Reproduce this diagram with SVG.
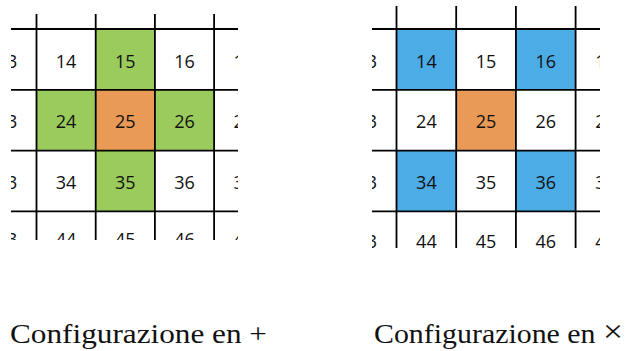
<svg xmlns="http://www.w3.org/2000/svg" width="629" height="351" viewBox="0 0 629 351">
  <style>
    .num { font-family: "Open Sans", "Noto Sans", sans-serif; font-size: 18px; fill: #111; text-anchor: middle; }
    .cap { font-family: "Liberation Serif", "DejaVu Serif", serif; font-size: 27px; fill: #111; }
    .grid line { stroke: #000; stroke-width: 1.8; }
    .plus { fill: #9BCB5C; }
    .centre { fill: #E99A57; }
    .cross { fill: #4BACE6; }
  </style>
  <defs>
    <clipPath id="clipL"><rect x="11" y="14" width="227" height="226"/></clipPath>
    <clipPath id="clipR"><rect x="372" y="6" width="228" height="242"/></clipPath>
  </defs>

  <rect width="629" height="351" fill="#fff"/>

  <!-- Plus neighbourhood -->
  <g id="plus-panel" clip-path="url(#clipL)">
    <rect class="plus" x="95.7" y="29" width="59.2" height="60.8"/>
    <rect class="plus" x="36.5" y="89.8" width="59.2" height="60.8"/>
    <rect class="centre" x="95.7" y="89.8" width="59.2" height="60.8"/>
    <rect class="plus" x="154.9" y="89.8" width="59.2" height="60.8"/>
    <rect class="plus" x="95.7" y="150.6" width="59.2" height="60.8"/>
    <g class="grid">
      <line x1="36.5" y1="0" x2="36.5" y2="260"/>
      <line x1="95.7" y1="0" x2="95.7" y2="260"/>
      <line x1="154.9" y1="0" x2="154.9" y2="260"/>
      <line x1="214.1" y1="0" x2="214.1" y2="260"/>
      <line x1="0" y1="29" x2="260" y2="29"/>
      <line x1="0" y1="89.8" x2="260" y2="89.8"/>
      <line x1="0" y1="150.6" x2="260" y2="150.6"/>
      <line x1="0" y1="211.4" x2="260" y2="211.4"/>
    </g>
    <g class="num">
      <text x="6.9" y="67.5">13</text><text x="66.1" y="67.5">14</text><text x="125.3" y="67.5">15</text><text x="184.5" y="67.5">16</text><text x="243.7" y="67.5">17</text>
      <text x="6.9" y="128.3">23</text><text x="66.1" y="128.3">24</text><text x="125.3" y="128.3">25</text><text x="184.5" y="128.3">26</text><text x="243.7" y="128.3">27</text>
      <text x="6.9" y="189.1">33</text><text x="66.1" y="189.1">34</text><text x="125.3" y="189.1">35</text><text x="184.5" y="189.1">36</text><text x="243.7" y="189.1">37</text>
      <text x="6.9" y="246">43</text><text x="66.1" y="246">44</text><text x="125.3" y="246">45</text><text x="184.5" y="246">46</text><text x="243.7" y="246">47</text>
    </g>
  </g>

  <!-- Cross (diagonal) neighbourhood -->
  <g id="cross-panel" clip-path="url(#clipR)">
    <rect class="cross" x="396.5" y="29" width="59.7" height="60.8"/>
    <rect class="cross" x="515.9" y="29" width="59.7" height="60.8"/>
    <rect class="centre" x="456.2" y="89.8" width="59.7" height="60.8"/>
    <rect class="cross" x="396.5" y="150.6" width="59.7" height="60.8"/>
    <rect class="cross" x="515.9" y="150.6" width="59.7" height="60.8"/>
    <g class="grid">
      <line x1="396.5" y1="0" x2="396.5" y2="260"/>
      <line x1="456.2" y1="0" x2="456.2" y2="260"/>
      <line x1="515.9" y1="0" x2="515.9" y2="260"/>
      <line x1="575.6" y1="0" x2="575.6" y2="260"/>
      <line x1="360" y1="29" x2="629" y2="29"/>
      <line x1="360" y1="89.8" x2="629" y2="89.8"/>
      <line x1="360" y1="150.6" x2="629" y2="150.6"/>
      <line x1="360" y1="211.4" x2="629" y2="211.4"/>
    </g>
    <g class="num">
      <text x="366.7" y="67.5">13</text><text x="426.4" y="67.5">14</text><text x="486.1" y="67.5">15</text><text x="545.8" y="67.5">16</text><text x="605.5" y="67.5">17</text>
      <text x="366.7" y="128.3">23</text><text x="426.4" y="128.3">24</text><text x="486.1" y="128.3">25</text><text x="545.8" y="128.3">26</text><text x="605.5" y="128.3">27</text>
      <text x="366.7" y="189.1">33</text><text x="426.4" y="189.1">34</text><text x="486.1" y="189.1">35</text><text x="545.8" y="189.1">36</text><text x="605.5" y="189.1">37</text>
      <text x="366.7" y="247.5">43</text><text x="426.4" y="247.5">44</text><text x="486.1" y="247.5">45</text><text x="545.8" y="247.5">46</text><text x="605.5" y="247.5">47</text>
    </g>
  </g>

  <!-- Captions -->
  <text id="caption-plus" class="cap" x="10" y="343" textLength="257" lengthAdjust="spacingAndGlyphs">Configurazione en +</text>
  <text id="caption-cross" class="cap" x="374" y="343" textLength="249" lengthAdjust="spacingAndGlyphs">Configurazione en <tspan font-size="32" dy="-1">×</tspan></text>
</svg>
